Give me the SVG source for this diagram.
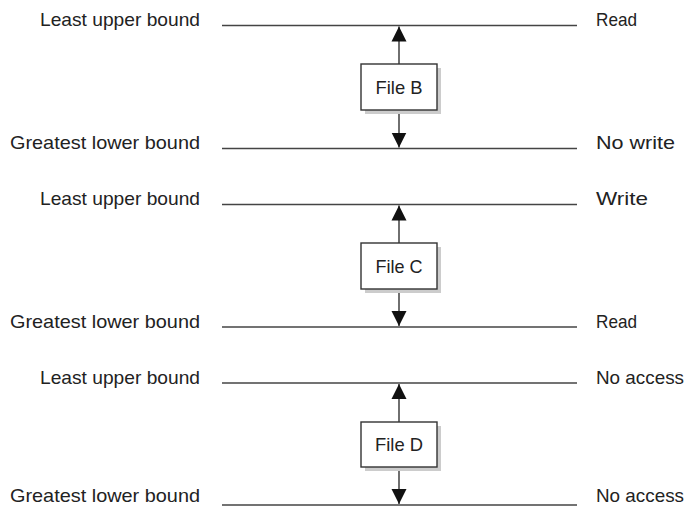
<svg xmlns="http://www.w3.org/2000/svg" width="691" height="506" viewBox="0 0 691 506">
<defs>
<marker id="ah" markerUnits="userSpaceOnUse" markerWidth="16" markerHeight="16" viewBox="0 0 16 16" refX="15" refY="8" orient="auto">
<path d="M0,0.5 L15,8 L0,15.5 Z" fill="#111"/>
</marker>
</defs>
<style>
.lbl{font-family:"Liberation Sans",Arial,sans-serif;font-size:19px;fill:#222}
.l{text-anchor:end}
.bound{stroke:#444;stroke-width:1.4;fill:none}
.box{fill:#fff;stroke:#333;stroke-width:1.4}
.shadow{fill:#ccc}
.conn{stroke:#333;stroke-width:1.4;fill:none;marker-end:url(#ah)}
.bt{font-family:"Liberation Sans",Arial,sans-serif;font-size:19px;fill:#222;text-anchor:middle}
</style>
<rect width="691" height="506" fill="#fff"/>
<g id="bounds">
<line class="bound" x1="222" y1="25.5" x2="577" y2="25.5"/>
<line class="bound" x1="222" y1="148.5" x2="577" y2="148.5"/>
<line class="bound" x1="222" y1="204.5" x2="577" y2="204.5"/>
<line class="bound" x1="222" y1="327" x2="577" y2="327"/>
<line class="bound" x1="222" y1="383" x2="577" y2="383"/>
<line class="bound" x1="222" y1="505" x2="577" y2="505"/>
</g>
<g id="labels">
<text class="lbl l" x="200" y="26" textLength="160" lengthAdjust="spacingAndGlyphs">Least upper bound</text>
<text class="lbl l" x="200" y="149" textLength="190" lengthAdjust="spacingAndGlyphs">Greatest lower bound</text>
<text class="lbl l" x="200" y="205" textLength="160" lengthAdjust="spacingAndGlyphs">Least upper bound</text>
<text class="lbl l" x="200" y="328" textLength="190" lengthAdjust="spacingAndGlyphs">Greatest lower bound</text>
<text class="lbl l" x="200" y="384" textLength="160" lengthAdjust="spacingAndGlyphs">Least upper bound</text>
<text class="lbl l" x="200" y="502" textLength="190" lengthAdjust="spacingAndGlyphs">Greatest lower bound</text>
<text class="lbl" x="596" y="26" textLength="41" lengthAdjust="spacingAndGlyphs">Read</text>
<text class="lbl" x="596" y="149" textLength="79" lengthAdjust="spacingAndGlyphs">No write</text>
<text class="lbl" x="596" y="205" textLength="52" lengthAdjust="spacingAndGlyphs">Write</text>
<text class="lbl" x="596" y="328" textLength="41" lengthAdjust="spacingAndGlyphs">Read</text>
<text class="lbl" x="596" y="384" textLength="88" lengthAdjust="spacingAndGlyphs">No access</text>
<text class="lbl" x="596" y="502" textLength="88" lengthAdjust="spacingAndGlyphs">No access</text>
</g>
<g id="connectors">
<path class="conn" d="M399,64 L399,26.5"/>
<path class="conn" d="M399,110 L399,147.5"/>
<path class="conn" d="M399,243 L399,205.5"/>
<path class="conn" d="M399,289 L399,326"/>
<path class="conn" d="M399,422 L399,384"/>
<path class="conn" d="M399,467 L399,504"/>
</g>
<g id="fileB">
<rect class="shadow" x="365" y="68" width="76" height="46"/>
<rect class="box" x="361" y="64" width="76" height="46"/>
<text class="bt" x="399" y="93.5" textLength="47" lengthAdjust="spacingAndGlyphs">File B</text>
</g>
<g id="fileC">
<rect class="shadow" x="365" y="247" width="76" height="46"/>
<rect class="box" x="361" y="243" width="76" height="46"/>
<text class="bt" x="399" y="272.5" textLength="47" lengthAdjust="spacingAndGlyphs">File C</text>
</g>
<g id="fileD">
<rect class="shadow" x="365" y="426" width="76" height="45"/>
<rect class="box" x="361" y="422" width="76" height="45"/>
<text class="bt" x="399" y="451" textLength="48" lengthAdjust="spacingAndGlyphs">File D</text>
</g>
</svg>
